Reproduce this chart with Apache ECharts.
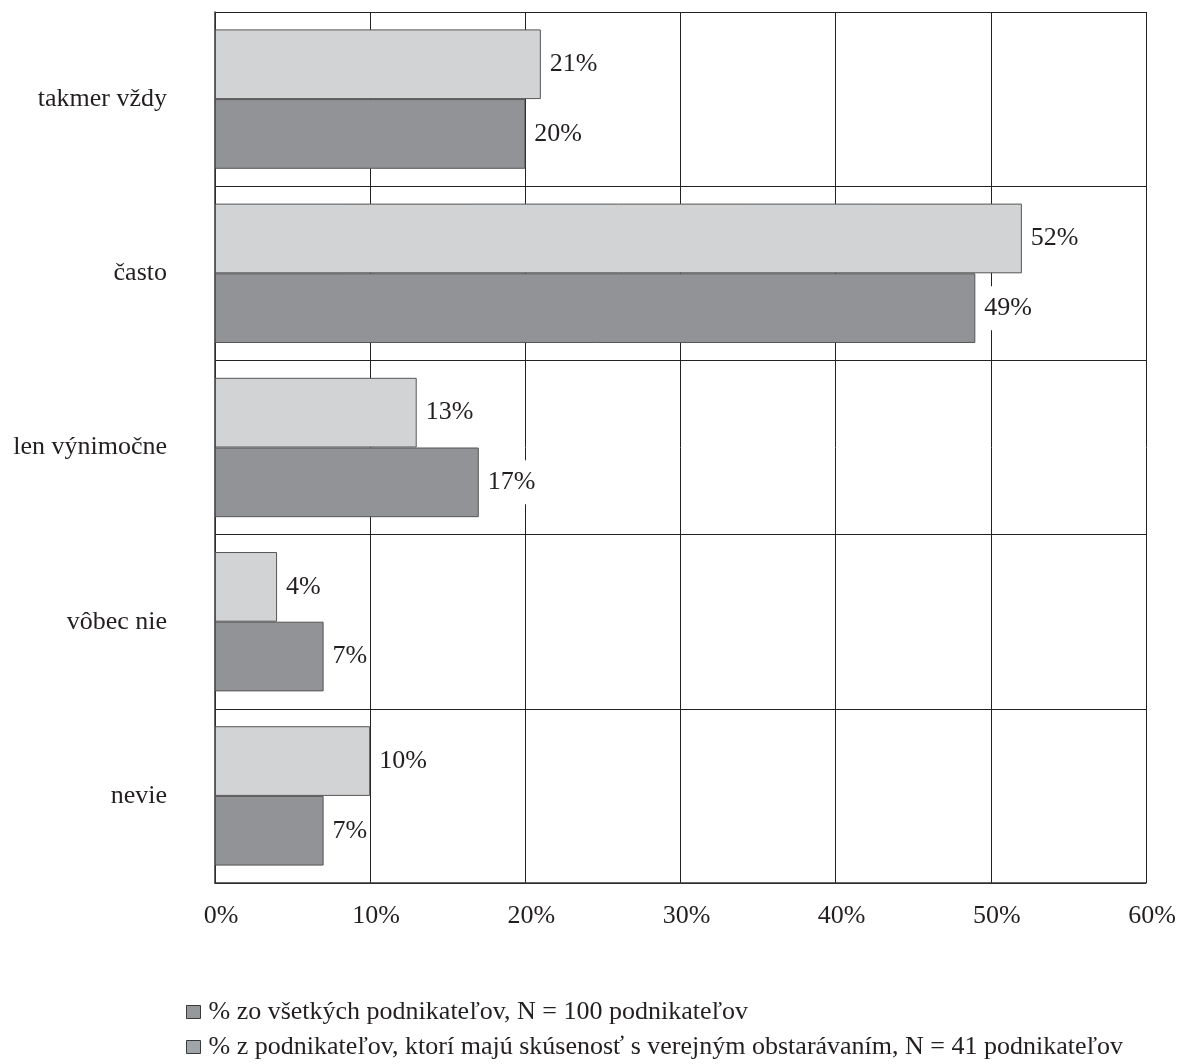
<!DOCTYPE html>
<html>
<head>
<meta charset="utf-8">
<script src="https://cdn.jsdelivr.net/npm/echarts@6/dist/echarts.min.js"></script>
<style>
  html, body { margin: 0; padding: 0; background: #fff; }
  #chart { width: 1180px; height: 1064px; }
</style>
</head>
<body>
<div id="chart"></div>
<script>
// Answer categories, top to bottom
const categories = ['takmer vždy', 'často', 'len výnimočne', 'vôbec nie', 'nevie'];
// Share of all entrepreneurs (N = 100)
const allEntrepreneurs = [21, 52, 13, 4, 10];
// Share of entrepreneurs with public procurement experience (N = 41)
const withExperience = [20, 49, 17, 7, 7];
// Horizontal axis ticks (percent)
const xTicks = [0, 10, 20, 30, 40, 50, 60];

const seriesNames = [
  '% zo všetkých podnikateľov, N = 100 podnikateľov',
  '% z podnikateľov, ktorí majú skúsenosť s verejným obstarávaním, N = 41 podnikateľov'
];

const FONT = '"Liberation Serif", "DejaVu Serif", serif';
const FS = 26;
const INK = '#231f20';

const chart = echarts.init(document.getElementById('chart'), null, { renderer: 'canvas' });

// Value labels sit on a white box so gridlines break around them
const labelStyle = {
  show: true,
  position: 'right',
  distance: 5,
  formatter: p => p.value + '%',
  fontFamily: FONT,
  fontSize: FS,
  color: INK,
  backgroundColor: '#fff',
  padding: [9, 0, 9, 4]
};

// One legend block per line, stacked vertically
const legendBlock = (name, color, top) => ({
  orient: 'vertical',
  left: 181,
  top: top,
  itemWidth: 14,
  itemHeight: 13,
  icon: 'rect',
  selectedMode: false,
  textStyle: { fontFamily: FONT, fontSize: FS, color: INK, padding: [0, 0, 0, 3] },
  data: [{ name: name, itemStyle: { color: color, borderColor: '#3a3a3a', borderWidth: 1 } }]
});

chart.setOption({
  animation: false,
  backgroundColor: '#fff',
  textStyle: { fontFamily: FONT },
  grid: { left: 215, right: 34, top: 12, bottom: 181, containLabel: false },
  legend: [
    legendBlock(seriesNames[0], '#97989b', 994),
    legendBlock(seriesNames[1], '#a0a5aa', 1029)
  ],
  xAxis: {
    type: 'value',
    min: xTicks[0],
    max: xTicks[xTicks.length - 1],
    interval: 10,
    axisLine: { show: true, lineStyle: { color: '#333', width: 1.5 } },
    axisTick: { show: false },
    axisLabel: {
      formatter: v => v + '%',
      fontFamily: FONT,
      fontSize: FS,
      color: INK,
      margin: 20,
      padding: [0, 0, 0, 12]
    },
    splitLine: { show: true, lineStyle: { color: '#222', width: 1 } }
  },
  yAxis: {
    type: 'category',
    data: categories,
    inverse: true,
    axisLine: { show: true, lineStyle: { color: '#333', width: 1.5 } },
    axisTick: { show: false },
    axisLabel: {
      fontFamily: FONT,
      fontSize: FS,
      color: INK,
      margin: 48
    },
    splitLine: { show: true, lineStyle: { color: '#222', width: 1 } }
  },
  series: [
    {
      name: seriesNames[0],
      type: 'bar',
      data: allEntrepreneurs,
      barGap: '0%',
      barCategoryGap: '20%',
      itemStyle: { color: '#d2d3d5', borderColor: '#555', borderWidth: 1 },
      label: labelStyle
    },
    {
      name: seriesNames[1],
      type: 'bar',
      data: withExperience,
      barGap: '0%',
      barCategoryGap: '20%',
      itemStyle: { color: '#929396', borderColor: '#555', borderWidth: 1 },
      label: labelStyle
    }
  ]
});
</script>
</body>
</html>
